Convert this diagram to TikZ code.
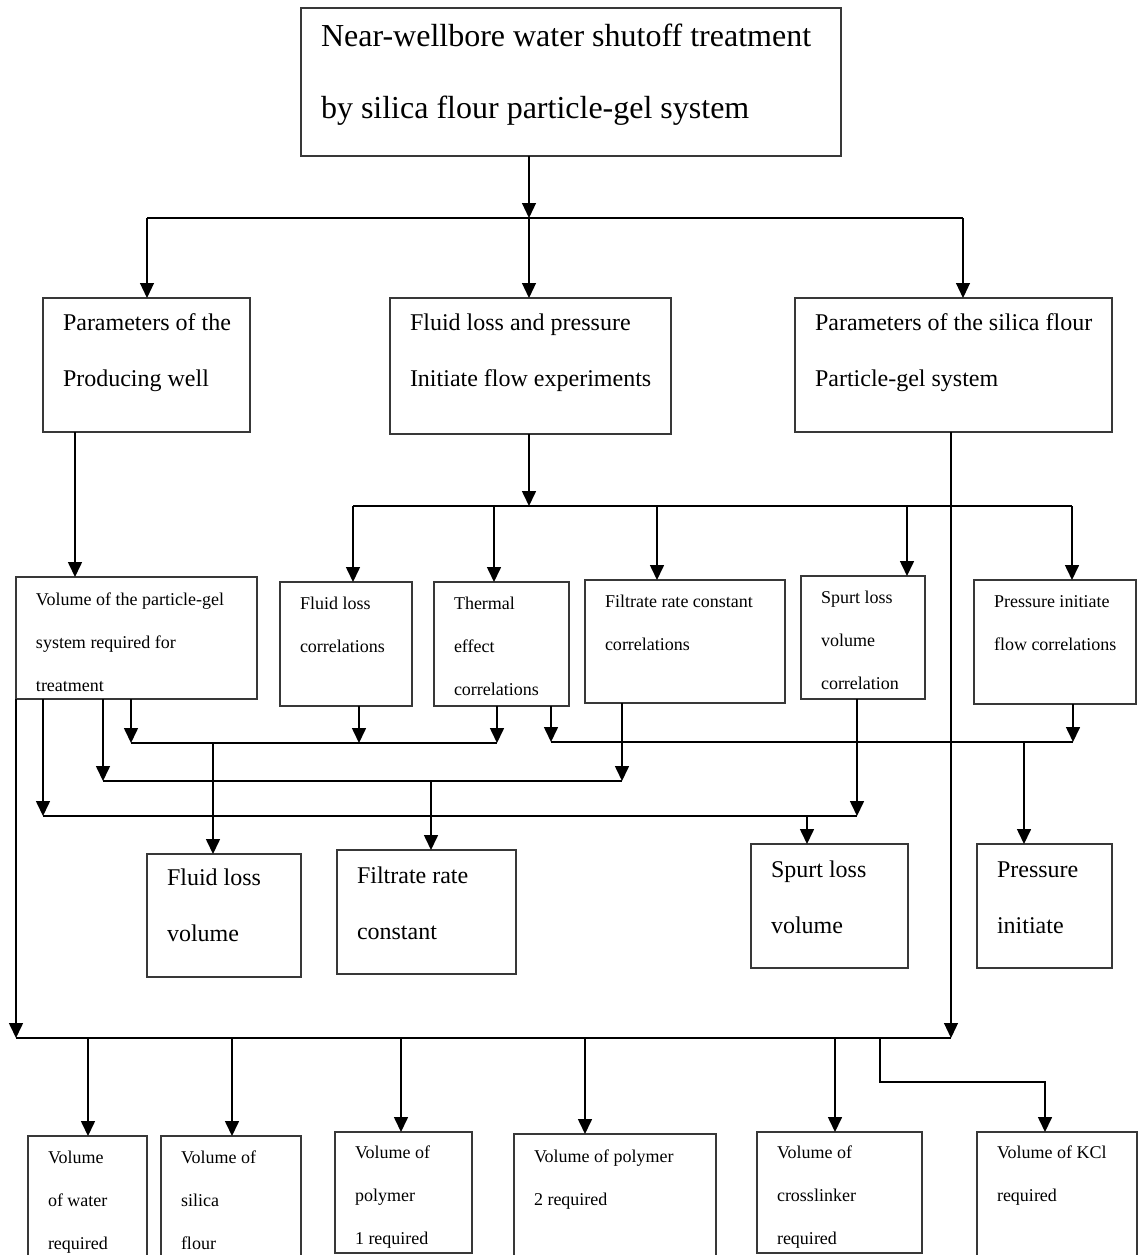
\documentclass[tikz,border=0pt]{standalone}
\usepackage{fontspec}
\setmainfont{Liberation Serif}
\usetikzlibrary{arrows.meta}

% Text cell: width, height, first baseline offset, font size, line skip, text
\newcommand{\cell}[6]{%
  \parbox[t][#2pt][t]{#1pt}{\fontsize{#4pt}{#5pt}\selectfont\raggedright
    \leftskip=20pt\rule{0pt}{#3pt}#6}}

\tikzset{
  box/.style={draw=black!78, line width=1.1pt, inner sep=0pt, outer sep=0pt,
              anchor=north west},
  link/.style={line width=1.6pt},
  thinlink/.style={line width=1.2pt},
  tip/.style={-{Triangle[width=14pt,length=15pt]}},
  arr/.style={link, tip},
  tarr/.style={thinlink, tip},
}

\begin{document}
\begin{tikzpicture}[x=1pt, y=-1pt]
\useasboundingbox (0,0) rectangle (1138,1255);

% ---- boxes ----
\node[box] (T) at (301,8)
  {\cell{540}{148}{39}{32}{72}{Near-wellbore water shutoff treatment\\by silica flour particle-gel system}};

\node[box] (P1) at (43,298)  {\cell{207}{134}{32}{24}{56}{Parameters of the\\Producing well}};
\node[box] (P2) at (390,298) {\cell{281}{136}{32}{24}{56}{Fluid loss and pressure\\Initiate flow experiments}};
\node[box] (P3) at (795,298) {\cell{317}{134}{32}{24}{56}{Parameters of the silica flour\\Particle-gel system}};

\node[box] (C1) at (16,577)  {\cell{241}{122}{28}{18}{43}{Volume of the particle-gel\\system required for\\treatment}};
\node[box] (C2) at (280,582) {\cell{132}{124}{27}{18}{43}{Fluid loss\\correlations}};
\node[box] (C3) at (434,582) {\cell{135}{124}{27}{18}{43}{Thermal\\effect\\correlations}};
\node[box] (C4) at (585,580) {\cell{200}{123}{27}{18}{43}{Filtrate rate constant\\correlations}};
\node[box] (C5) at (801,576) {\cell{124}{123}{27}{18}{43}{Spurt loss\\volume\\correlation}};
\node[box] (C6) at (974,580) {\cell{162}{124}{27}{18}{43}{Pressure initiate\\flow correlations}};

\node[box] (O1) at (147,854) {\cell{154}{123}{31}{24}{56}{Fluid loss\\volume}};
\node[box] (O2) at (337,850) {\cell{179}{124}{33}{24}{56}{Filtrate rate\\constant}};
\node[box] (O3) at (751,844) {\cell{157}{124}{33}{24}{56}{Spurt loss\\volume}};
\node[box] (O4) at (977,844) {\cell{135}{124}{33}{24}{56}{Pressure\\initiate}};

\node[box] (B1) at (28,1136)  {\cell{119}{130}{27}{18}{43}{Volume\\of water\\required}};
\node[box] (B2) at (161,1136) {\cell{140}{130}{27}{18}{43}{Volume of\\silica\\flour}};
\node[box] (B3) at (335,1132) {\cell{137}{121}{26}{18}{43}{Volume of\\polymer\\1 required}};
\node[box] (B4) at (514,1134) {\cell{202}{130}{28}{18}{43}{Volume of polymer\\2 required}};
\node[box] (B5) at (757,1132) {\cell{165}{121}{26}{18}{43}{Volume of\\crosslinker\\required}};
\node[box] (B6) at (977,1132) {\cell{160}{130}{26}{18}{43}{Volume of KCl\\required}};

% ---- junction points ----
\coordinate (sp)  at (529,218);
\coordinate (spL) at (147,218);
\coordinate (spR) at (963,218);
\coordinate (a1)  at (75,500);
\coordinate (j2)  at (529,506);
\coordinate (j2L) at (353,506);
\coordinate (j2b) at (494,506);
\coordinate (j2c) at (657,506);
\coordinate (j2d) at (907,506);
\coordinate (j2R) at (1072,506);

\coordinate (m1L) at (131,743);
\coordinate (m1a) at (359,743);
\coordinate (m1R) at (497,743);
\coordinate (m1d) at (213,743);
\coordinate (m2L) at (551,742);
\coordinate (m2R) at (1073,742);
\coordinate (m2d) at (1024,742);
\coordinate (m3L) at (103,781);
\coordinate (m3R) at (622,781);
\coordinate (m3d) at (431,781);
\coordinate (m4L) at (43,816);
\coordinate (m4R) at (857,816);
\coordinate (m4d) at (807,816);

\coordinate (bL)  at (16,1038);
\coordinate (bR)  at (951,1038);
\coordinate (q1)  at (88,1038);
\coordinate (q2)  at (232,1038);
\coordinate (q3)  at (401,1038);
\coordinate (q4)  at (585,1038);
\coordinate (q5)  at (835,1038);
\coordinate (q6)  at (880,1038);
\coordinate (q6b) at (880,1082);
\coordinate (q6c) at (1045,1082);

% ---- first tier ----
\draw[tarr] (sp |- T.south) -- (sp);
\draw[thinlink] (spL) -- (spR);
\draw[tarr] (spL) -- (spL |- P1.north);
\draw[tarr] (sp)  -- (sp |- P2.north);
\draw[tarr] (spR) -- (spR |- P3.north);

% ---- second tier ----
\draw[arr] (a1 |- P1.south) -- (a1 |- C1.north);
\draw[arr] (j2 |- P2.south) -- (j2);
\draw[link] (j2L) -- (j2R);
\draw[arr] (j2L) -- (j2L |- C2.north);
\draw[arr] (j2b) -- (j2b |- C3.north);
\draw[arr] (j2c) -- (j2c |- C4.north);
\draw[arr] (j2d) -- (j2d |- C5.north);
\draw[arr] (j2R) -- (j2R |- C6.north);

% ---- correlations to results ----
\draw[link] (m1L) -- (m1R);
\draw[arr] (m1L |- C1.south) -- (m1L);
\draw[arr] (m1a |- C2.south) -- (m1a);
\draw[arr] (m1R |- C3.south) -- (m1R);
\draw[arr] (m1d) -- (m1d |- O1.north);

\draw[link] (m2L) -- (m2R);
\draw[arr] (m2L |- C3.south) -- (m2L);
\draw[arr] (m2R |- C6.south) -- (m2R);
\draw[arr] (m2d) -- (m2d |- O4.north);

\draw[link] (m3L) -- (m3R);
\draw[arr] (m3L |- C1.south) -- (m3L);
\draw[arr] (m3R |- C4.south) -- (m3R);
\draw[arr] (m3d) -- (m3d |- O2.north);

\draw[link] (m4L) -- (m4R);
\draw[arr] (m4L |- C1.south) -- (m4L);
\draw[arr] (m4R |- C5.south) -- (m4R);
\draw[arr] (m4d) -- (m4d |- O3.north);

% ---- bottom distribution ----
\draw[arr] (C1.south west) -- (bL);
\draw[tarr] (bR |- P3.south) -- (bR);
\draw[link] (bL) -- (bR);
\draw[arr] (q1) -- (q1 |- B1.north);
\draw[arr] (q2) -- (q2 |- B2.north);
\draw[arr] (q3) -- (q3 |- B3.north);
\draw[arr] (q4) -- (q4 |- B4.north);
\draw[arr] (q5) -- (q5 |- B5.north);
\draw[arr] (q6) -- (q6b) -- (q6c) -- (q6c |- B6.north);
\end{tikzpicture}
\end{document}
